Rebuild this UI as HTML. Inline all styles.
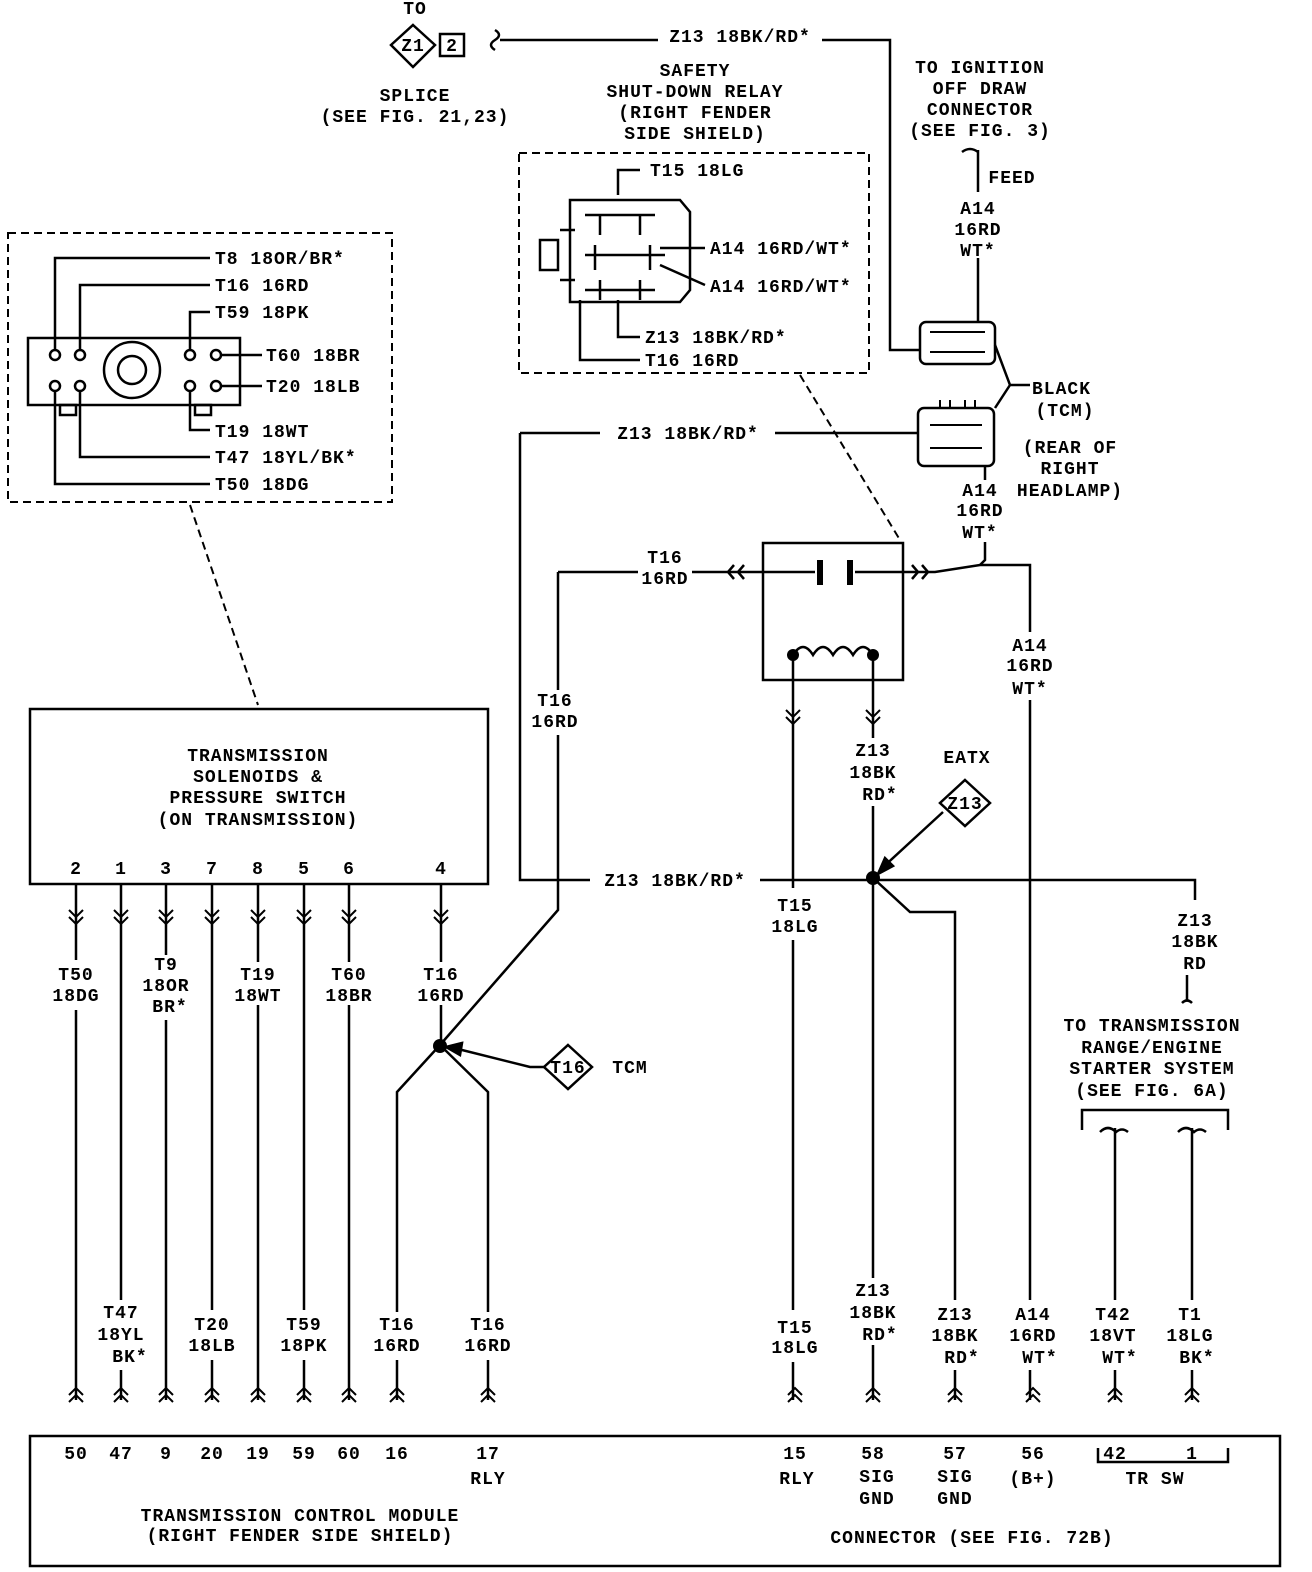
<!DOCTYPE html>
<html><head><meta charset="utf-8"><style>
html,body{margin:0;padding:0;background:#fff}
svg{display:block}
text{font-family:"Liberation Mono",monospace;font-weight:bold;font-size:18px;fill:#000;text-anchor:middle;letter-spacing:1px}
.l{text-anchor:start}
</style></head><body>
<svg width="1312" height="1572" viewBox="0 0 1312 1572" xmlns="http://www.w3.org/2000/svg">
<defs>
<g id="dn"><path d="M-7 0 l7 7 l7 -7 M-7 7 l7 7 l7 -7" fill="none" stroke="#000" stroke-width="2"/></g>
<g id="up"><path d="M-7 0 l7 -7 l7 7 M-7 7 l7 -7 l7 7" fill="none" stroke="#000" stroke-width="2"/></g>
</defs>
<g fill="none" stroke="#000" stroke-width="2.5">
<path d="M413 25 L435 45 L413 67 L391 45 Z"/>
<rect x="440" y="34" width="24" height="22"/>
<path d="M495 30 q8 5 0 10 q-8 5 0 10"/>
<path d="M500 40 H658 M822 40 H890 V350 H920"/>
<path d="M962 152 q8 -6 16 0 M978 150 V192 M978 258 V322"/>
<rect x="920" y="322" width="75" height="42" rx="6"/>
<rect x="918" y="408" width="76" height="58" rx="6"/>
<path d="M930 332 H985 M930 352 H985 M940 400 V408 H950 V400 M965 400 V408 H975 V400 M930 425 H982 M930 448 H982" stroke-width="2"/>
<path d="M995 345 L1010 385 L995 408 M1010 385 H1030"/>
<rect x="519" y="153" width="350" height="220" stroke-dasharray="8 5" stroke-width="2"/>
<path d="M800 375 L900 540" stroke-dasharray="8 5" stroke-width="2"/>
<path d="M570 200 H680 L690 212 V290 L680 302 H570 Z"/>
<rect x="540" y="240" width="18" height="30"/>
<path d="M585 215 H655 M585 255 H665 M585 290 H655 M600 215 V235 M640 215 V235 M595 245 V270 M650 245 V270 M600 280 V300 M640 280 V300 M560 230 H575 M560 280 H575"/>
<path d="M618 195 V170 H640 M580 300 V360 H640 M618 300 V337 H640 M660 248 L705 248 M660 265 L705 285"/>
<rect x="8" y="233" width="384" height="269" stroke-dasharray="8 5" stroke-width="2"/>
<path d="M190 505 L258 705" stroke-dasharray="8 5" stroke-width="2"/>
<rect x="28" y="338" width="212" height="67"/>
<circle cx="132" cy="370" r="28"/><circle cx="132" cy="370" r="14"/>
<circle cx="55" cy="355" r="5"/><circle cx="80" cy="355" r="5"/><circle cx="55" cy="386" r="5"/><circle cx="80" cy="386" r="5"/>
<circle cx="190" cy="355" r="5"/><circle cx="216" cy="355" r="5"/><circle cx="190" cy="386" r="5"/><circle cx="216" cy="386" r="5"/>
<rect x="60" y="405" width="16" height="10"/><rect x="195" y="405" width="16" height="10"/>
<path d="M55 350 V258 H210 M80 350 V285 H210 M190 350 V312 H210 M221 355 H262 M221 386 H262 M190 391 V430 H210 M80 391 V457 H210 M55 391 V484 H210"/>
<path d="M520 433 H600 M775 433 H918 M520 433 V880 H590 M760 880 H1195 V900"/>
<path d="M558 572 V690 M558 735 V910 L440 1045"/>
<path d="M558 572 H638 M692 572 H740"/>
<path d="M734 565 l-6 7 l6 7 M744 565 l-6 7 l6 7"/>
<rect x="763" y="543" width="140" height="137"/>
<path d="M740 572 H815 M855 572 H903 M903 572 H935 L980 565 H1030 V632 M1030 700 V1300 M1030 1370 V1400"/>
<path d="M912 565 l6 7 l-6 7 M922 565 l6 7 l-6 7"/>
<path d="M820 560 V585 M850 560 V585" stroke-width="6"/>
<path d="M793 655 q10 -16 20 0 q10 -16 20 0 q10 -16 20 0 q10 -16 20 0"/>
<path d="M793 655 V888 M793 940 V1310 M793 1362 V1400 M873 655 V738 M873 806 V1278 M873 1345 V1400"/>
<path d="M873 878 L910 912 H955 V1300 M955 1370 V1400"/>
<path d="M985 466 V480 M985 542 V560 L980 565"/>
<path d="M965 780 L990 803 L965 826 L940 803 Z"/>
<path d="M943 812 L880 870"/>
<path d="M885 858 L878 874 L893 866 Z" fill="#000"/>
<path d="M1182 1003 q5 -5 10 0 M1187 975 V1000"/>
<path d="M1082 1130 V1110 H1228 V1130"/>
<path d="M1100 1132 q8 -8 16 0 q6 -5 12 0 M1178 1132 q8 -8 16 0 q6 -5 12 0"/>
<path d="M1115 1128 V1300 M1115 1370 V1400 M1192 1128 V1300 M1192 1370 V1400"/>
<rect x="30" y="709" width="458" height="175"/>
<path d="M76 884 V960 M76 1010 V1400 M121 884 V1300 M121 1370 V1400 M166 884 V955 M166 1020 V1400 M212 884 V1310 M212 1360 V1400 M258 884 V962 M258 1005 V1400 M304 884 V1310 M304 1360 V1400 M349 884 V962 M349 1005 V1400 M441 884 V962 M441 1005 V1045"/>
<path d="M440 1045 L397 1092 V1312 M397 1360 V1400 M440 1045 L488 1092 V1312 M488 1360 V1400"/>
<path d="M568 1045 L592 1067 L568 1089 L544 1067 Z"/>
<path d="M544 1067 L530 1067 L450 1047"/>
<path d="M462 1043 L446 1047 L460 1055 Z" fill="#000"/>
<rect x="30" y="1436" width="1250" height="130"/>
<path d="M1098 1448 V1462 H1228 V1448"/>
</g>
<circle cx="793" cy="655" r="6"/><circle cx="873" cy="655" r="6"/>
<circle cx="873" cy="878" r="7"/><circle cx="440" cy="1046" r="7"/>
<use href="#dn" x="76" y="910"/><use href="#dn" x="121" y="910"/><use href="#dn" x="166" y="910"/><use href="#dn" x="212" y="910"/><use href="#dn" x="258" y="910"/><use href="#dn" x="304" y="910"/><use href="#dn" x="349" y="910"/><use href="#dn" x="441" y="910"/>
<use href="#dn" x="793" y="710"/><use href="#dn" x="873" y="710"/>
<use href="#up" x="76" y="1395"/><use href="#up" x="121" y="1395"/><use href="#up" x="166" y="1395"/><use href="#up" x="212" y="1395"/><use href="#up" x="258" y="1395"/><use href="#up" x="304" y="1395"/><use href="#up" x="349" y="1395"/><use href="#up" x="397" y="1395"/><use href="#up" x="488" y="1395"/>
<use href="#up" x="795" y="1395"/><use href="#up" x="873" y="1395"/><use href="#up" x="955" y="1395"/><use href="#up" x="1033" y="1395"/><use href="#up" x="1115" y="1395"/><use href="#up" x="1192" y="1395"/>
<text x="415" y="14">TO</text><text x="413" y="51" font-size="16">Z1</text><text x="452" y="51" font-size="16">2</text>
<text x="415" y="101">SPLICE</text><text x="415" y="122">(SEE FIG. 21,23)</text>
<text x="740" y="42">Z13 18BK/RD*</text>
<text x="695" y="76">SAFETY</text><text x="695" y="97">SHUT-DOWN RELAY</text><text x="695" y="118">(RIGHT FENDER</text><text x="695" y="139">SIDE SHIELD)</text>
<text x="980" y="73">TO IGNITION</text><text x="980" y="94">OFF DRAW</text><text x="980" y="115">CONNECTOR</text><text x="980" y="136">(SEE FIG. 3)</text>
<text x="1012" y="183">FEED</text>
<text x="978" y="214">A14</text><text x="978" y="235">16RD</text><text x="978" y="256">WT*</text>
<text class="l" x="650" y="176">T15 18LG</text>
<text class="l" x="710" y="254">A14 16RD/WT*</text><text class="l" x="710" y="292">A14 16RD/WT*</text>
<text class="l" x="645" y="343">Z13 18BK/RD*</text><text class="l" x="645" y="366">T16 16RD</text>
<text class="l" x="1032" y="394">BLACK</text><text x="1065" y="416">(TCM)</text>
<text x="1070" y="453">(REAR OF</text><text x="1070" y="474">RIGHT</text><text x="1070" y="496">HEADLAMP)</text>
<text x="980" y="496">A14</text><text x="980" y="516">16RD</text><text x="980" y="538">WT*</text>
<text class="l" x="215" y="264">T8 18OR/BR*</text><text class="l" x="215" y="291">T16 16RD</text><text class="l" x="215" y="318">T59 18PK</text>
<text class="l" x="266" y="361">T60 18BR</text><text class="l" x="266" y="392">T20 18LB</text>
<text class="l" x="215" y="437">T19 18WT</text><text class="l" x="215" y="463">T47 18YL/BK*</text><text class="l" x="215" y="490">T50 18DG</text>
<text x="688" y="439">Z13 18BK/RD*</text>
<text x="665" y="563">T16</text><text x="665" y="584">16RD</text>
<text x="555" y="706">T16</text><text x="555" y="727">16RD</text>
<text x="1030" y="651">A14</text><text x="1030" y="671">16RD</text><text x="1030" y="694">WT*</text>
<text x="873" y="756">Z13</text><text x="873" y="778">18BK</text><text x="880" y="800">RD*</text>
<text x="967" y="763">EATX</text><text x="965" y="809" font-size="16">Z13</text>
<text x="675" y="886">Z13 18BK/RD*</text>
<text x="795" y="911">T15</text><text x="795" y="932">18LG</text>
<text x="1195" y="926">Z13</text><text x="1195" y="947">18BK</text><text x="1195" y="969">RD</text>
<text x="1152" y="1031">TO TRANSMISSION</text><text x="1152" y="1053">RANGE/ENGINE</text><text x="1152" y="1074">STARTER SYSTEM</text><text x="1152" y="1096">(SEE FIG. 6A)</text>
<text x="258" y="761">TRANSMISSION</text><text x="258" y="782">SOLENOIDS &amp;</text><text x="258" y="803">PRESSURE SWITCH</text><text x="258" y="825">(ON TRANSMISSION)</text>
<text x="76" y="874">2</text><text x="121" y="874">1</text><text x="166" y="874">3</text><text x="212" y="874">7</text><text x="258" y="874">8</text><text x="304" y="874">5</text><text x="349" y="874">6</text><text x="441" y="874">4</text>
<text x="76" y="980">T50</text><text x="76" y="1001">18DG</text>
<text x="166" y="970">T9</text><text x="166" y="991">18OR</text><text x="170" y="1012">BR*</text>
<text x="258" y="980">T19</text><text x="258" y="1001">18WT</text>
<text x="349" y="980">T60</text><text x="349" y="1001">18BR</text>
<text x="441" y="980">T16</text><text x="441" y="1001">16RD</text>
<text x="568" y="1073" font-size="16">T16</text><text x="630" y="1073">TCM</text>
<text x="121" y="1318">T47</text><text x="121" y="1340">18YL</text><text x="130" y="1362">BK*</text>
<text x="212" y="1330">T20</text><text x="212" y="1351">18LB</text>
<text x="304" y="1330">T59</text><text x="304" y="1351">18PK</text>
<text x="397" y="1330">T16</text><text x="397" y="1351">16RD</text>
<text x="488" y="1330">T16</text><text x="488" y="1351">16RD</text>
<text x="795" y="1333">T15</text><text x="795" y="1353">18LG</text>
<text x="873" y="1296">Z13</text><text x="873" y="1318">18BK</text><text x="880" y="1340">RD*</text>
<text x="955" y="1320">Z13</text><text x="955" y="1341">18BK</text><text x="962" y="1363">RD*</text>
<text x="1033" y="1320">A14</text><text x="1033" y="1341">16RD</text><text x="1040" y="1363">WT*</text>
<text x="1113" y="1320">T42</text><text x="1113" y="1341">18VT</text><text x="1120" y="1363">WT*</text>
<text x="1190" y="1320">T1</text><text x="1190" y="1341">18LG</text><text x="1197" y="1363">BK*</text>
<text x="76" y="1459">50</text><text x="121" y="1459">47</text><text x="166" y="1459">9</text><text x="212" y="1459">20</text><text x="258" y="1459">19</text><text x="304" y="1459">59</text><text x="349" y="1459">60</text><text x="397" y="1459">16</text><text x="488" y="1459">17</text><text x="488" y="1484">RLY</text>
<text x="795" y="1459">15</text><text x="797" y="1484">RLY</text>
<text x="873" y="1459">58</text><text x="877" y="1482">SIG</text><text x="877" y="1504">GND</text>
<text x="955" y="1459">57</text><text x="955" y="1482">SIG</text><text x="955" y="1504">GND</text>
<text x="1033" y="1459">56</text><text x="1033" y="1484">(B+)</text>
<text x="1115" y="1459">42</text><text x="1192" y="1459">1</text><text x="1155" y="1484">TR SW</text>
<text x="300" y="1521">TRANSMISSION CONTROL MODULE</text><text x="300" y="1541">(RIGHT FENDER SIDE SHIELD)</text>
<text x="972" y="1543">CONNECTOR (SEE FIG. 72B)</text>
</svg>
</body></html>
